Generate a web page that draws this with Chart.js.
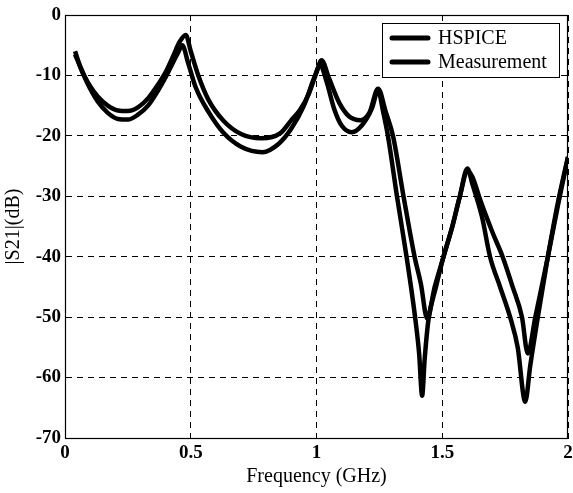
<!DOCTYPE html>
<html>
<head>
<meta charset="utf-8">
<script src="https://cdn.jsdelivr.net/npm/chart.js@4.4.0/dist/chart.umd.min.js"></script>
<style>
html, body { margin: 0; padding: 0; background: #fff; }
</style>
</head>
<body>
<canvas id="chart" width="573" height="493"></canvas>
<script>
// |S21| vs frequency, two curves
var hspiceFreq = [0.04, 0.06, 0.08, 0.10, 0.13, 0.17, 0.21, 0.25, 0.29, 0.33, 0.37, 0.40, 0.43, 0.455, 0.48,
    0.50, 0.53, 0.57, 0.63, 0.70, 0.78, 0.855, 0.90, 0.934, 0.97, 1.00, 1.02, 1.05, 1.09, 1.13, 1.175, 1.21,
    1.245, 1.275, 1.304, 1.346, 1.39, 1.415, 1.44, 1.47, 1.505, 1.54, 1.57, 1.60, 1.62, 1.65, 1.70, 1.74,
    1.78, 1.817, 1.84, 1.87, 1.92, 1.96, 2.0];
var hspiceDb = [-6.5, -8.5, -10.3, -11.8, -13.5, -15, -15.8, -15.9, -15.3, -13.8, -11.5, -9.5, -6.8, -4.5, -3.3,
    -6, -10, -14, -17.5, -19.7, -20.4, -19.6, -17.4, -15.7, -13, -9.5, -7.5, -10.5, -14.5, -16.8, -17.4, -16.2,
    -12.2, -16, -20, -30, -40, -44.5, -50.2, -45, -40, -35, -30, -25.8, -26.8, -30.5, -36, -40,
    -45, -50, -56, -50, -40, -31.5, -23.5];

var measFreq = [0.04, 0.06, 0.08, 0.10, 0.13, 0.17, 0.21, 0.25, 0.29, 0.33, 0.37, 0.40, 0.43, 0.45, 0.466,
    0.49, 0.52, 0.57, 0.63, 0.70, 0.785, 0.85, 0.90, 0.95, 0.99, 1.015, 1.04, 1.07, 1.10, 1.14, 1.18, 1.22,
    1.245, 1.265, 1.284, 1.32, 1.358, 1.392, 1.408, 1.42, 1.43, 1.445, 1.475, 1.505, 1.54, 1.57, 1.60, 1.62,
    1.658, 1.69, 1.73, 1.77, 1.80, 1.83, 1.85, 1.88, 1.92, 1.96, 2.0];
var measDb = [-6, -8.5, -10.5, -12.2, -14.3, -16.2, -17.2, -17.3, -16.5, -15, -12.5, -10.3, -7.8, -6.2, -5,
    -8, -12, -16, -19.5, -21.8, -22.7, -21.3, -18.8, -15, -10.5, -8.3, -11, -15.5, -18.3, -19.4, -18.3, -15.5,
    -12.5, -16, -20, -30, -40, -50, -56, -63, -57, -50.5, -45, -40, -35, -30, -25.4, -28,
    -33.4, -40, -45, -50, -55, -64, -58, -50, -40, -31, -23.5];

var xTicks = [0, 0.5, 1, 1.5, 2];
var xTickLabels = ['0', '0.5', '1', '1.5', '2'];
var yMin = -70, yMax = 0, yStep = 10;
var seriesNames = ['HSPICE', 'Measurement'];

function toPoints(xs, ys) {
    return xs.map(function (x, i) { return { x: x, y: ys[i] }; });
}

var serif = '"Liberation Serif", "DejaVu Serif", serif';

// 枠線（上と右も）
var framePlugin = {
    id: 'frame',
    afterDraw: function (chart) {
        var a = chart.chartArea, c = chart.ctx;
        c.save();
        c.strokeStyle = '#000';
        c.lineWidth = 1.2;
        c.strokeRect(a.left + 0.5, a.top + 0.5, a.right - a.left - 1, a.bottom - a.top);
        c.restore();
    }
};

// 凡例（箱付き、右上）
var boxLegendPlugin = {
    id: 'boxLegend',
    afterDraw: function (chart) {
        var a = chart.chartArea, c = chart.ctx;
        var w = 177, h = 54;
        var left = a.right - w - 9, top = a.top + 8;
        c.save();
        c.fillStyle = '#fff';
        c.fillRect(left, top, w, h);
        c.strokeStyle = '#000';
        c.lineWidth = 1;
        c.strokeRect(left + 0.5, top + 0.5, w, h);
        c.font = '20px ' + serif;
        c.textBaseline = 'middle';
        c.fillStyle = '#000';
        chart.data.datasets.forEach(function (ds, i) {
            var y = top + 15 + i * 24;
            c.beginPath();
            c.lineWidth = 5;
            c.lineCap = 'round';
            c.moveTo(left + 10, y);
            c.lineTo(left + 46, y);
            c.stroke();
            c.fillText(ds.label, left + 56, y + 1);
        });
        c.restore();
    }
};

var ctx = document.getElementById('chart').getContext('2d');
var chart = new Chart(ctx, {
    type: 'line',
    data: {
        datasets: [{
            label: seriesNames[0],
            data: toPoints(hspiceFreq, hspiceDb),
            borderColor: '#000',
            borderWidth: 4.5,
            pointRadius: 0,
            cubicInterpolationMode: 'monotone'
        }, {
            label: seriesNames[1],
            data: toPoints(measFreq, measDb),
            borderColor: '#000',
            borderWidth: 4.5,
            pointRadius: 0,
            cubicInterpolationMode: 'monotone'
        }]
    },
    options: {
        responsive: false,
        animation: false,
        layout: { padding: { left: 0, right: 5, top: 15, bottom: 0 } },
        plugins: {
            legend: { display: false },
            tooltip: { enabled: false }
        },
        scales: {
            x: {
                type: 'linear',
                min: xTicks[0],
                max: xTicks[xTicks.length - 1],
                afterBuildTicks: function (s) { s.ticks = xTicks.map(function (v) { return { value: v }; }); },
                afterFit: function (s) {
                    s.height = 55;
                    s.paddingLeft = 0;
                    s.paddingRight = 0;
                },
                ticks: {
                    color: '#000',
                    padding: 4,
                    maxRotation: 0,
                    callback: function (v, i) { return xTickLabels[i]; },
                    font: { family: serif, size: 19, weight: 'bold' }
                },
                grid: { color: '#000', lineWidth: 1, drawTicks: false },
                border: { display: true, color: '#000', width: 1, dash: [6, 5] },
                title: {
                    display: true,
                    text: 'Frequency (GHz)',
                    color: '#000',
                    padding: { top: 0, bottom: 4 },
                    font: { family: serif, size: 20 }
                }
            },
            y: {
                min: yMin,
                max: yMax,
                afterFit: function (s) {
                    s.width = 65;
                    s.paddingTop = 0;
                    s.paddingBottom = 0;
                },
                ticks: {
                    stepSize: yStep,
                    color: '#000',
                    padding: 4,
                    font: { family: serif, size: 19, weight: 'bold' }
                },
                grid: { color: '#000', lineWidth: 1, drawTicks: false },
                border: { display: true, color: '#000', width: 1, dash: [6, 5] },
                title: {
                    display: true,
                    text: '|S21|(dB)',
                    color: '#000',
                    padding: { top: 2, bottom: 0 },
                    font: { family: serif, size: 20 }
                }
            }
        }
    },
    plugins: [framePlugin, boxLegendPlugin]
});
</script>
</body>
</html>
